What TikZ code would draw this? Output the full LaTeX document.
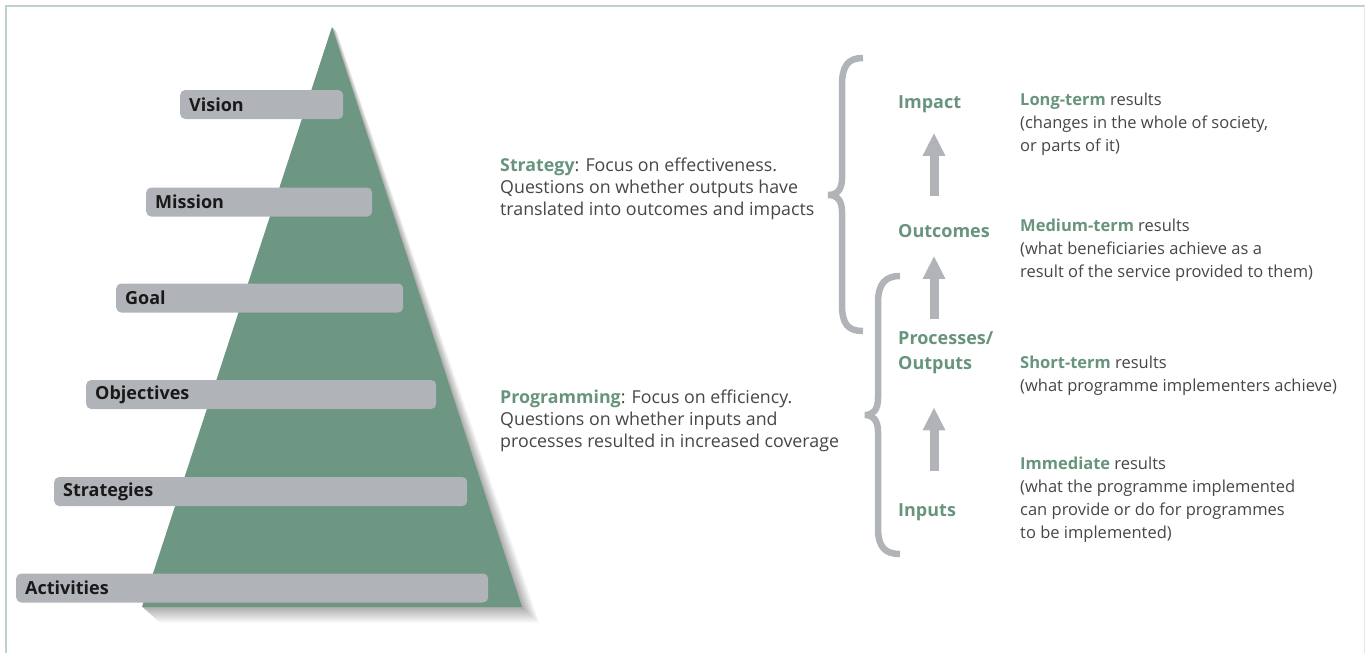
\documentclass[tikz,border=0pt]{standalone}
\usepackage{fontspec}
\setmainfont{Open Sans}
\usetikzlibrary{arrows.meta}
\definecolor{pyrgreen}{RGB}{109,150,131}
\definecolor{txtgreen}{RGB}{104,148,126}
\definecolor{bargray}{RGB}{176,180,184}
\definecolor{bodygray}{RGB}{70,70,70}
\definecolor{framegreen}{RGB}{190,210,200}

\begin{document}
\begin{tikzpicture}[x=1pt, y=-1pt,
    bar/.style={fill=bargray, rounded corners=5pt, minimum height=29pt, inner xsep=9pt, inner ysep=0pt,
        anchor=west, font=\fontsize{18}{20}\selectfont\bfseries, text=black!90},
    level/.style={anchor=west, inner sep=0pt, align=left, text=txtgreen, font=\fontsize{18}{25}\selectfont\bfseries},
    desc/.style={anchor=base west, inner sep=0pt, align=left, text=bodygray, font=\fontsize{16.5}{23}\selectfont},
    focus/.style={anchor=base west, inner sep=0pt, align=left, text=bodygray, font=\fontsize{17.8}{22}\selectfont},
    uparrow/.style={draw=bargray, line width=9pt, -{Triangle[width=21pt, length=23pt]}},
    curly/.style={draw=bargray, line width=6.5pt}]
    \useasboundingbox (0,0) rectangle (1365,653);

    % frame
    \draw [framegreen, line width=2pt] (5.5,653) -- (5.5,5.5) -- (1365,5.5);
    \draw [black!10, line width=1pt] (1364,5.5) -- (1364,653);

    % pyramid with its soft shadow
    \foreach \s in {16,...,1} {
        \pgfmathtruncatemacro\shade{(17-\s)*2}
        \fill [black!\shade] (332+\s*0.3,27+\s*0.3) -- (522+\s*1.1,607+\s) -- (142+\s*1.1,607+\s) -- cycle;
    }
    \fill [pyrgreen] (332,27) -- (522,607) -- (142,607) -- cycle;

    % levels of the pyramid
    \node [bar, text width=145pt] (vision) at (180,104.5) {Vision};
    \node [bar, text width=208pt] (mission) at (146,202) {Mission};
    \node [bar, text width=269pt] (goal) at (116,298) {Goal};
    \node [bar, text width=332pt] (objectives) at (86,394.5) {Objectives};
    \node [bar, text width=395pt] (strategies) at (54,491.5) {Strategies};
    \node [bar, text width=454pt] (activities) at (16,588) {Activities};

    % focus texts (base = last line)
    \node [focus] (strategy) at (500,215) {\textcolor{txtgreen}{\bfseries Strategy}: Focus on effectiveness.\\
        Questions on whether outputs have\\translated into outcomes and impacts};
    \node [focus] (programming) at (500,447) {\textcolor{txtgreen}{\bfseries Programming}: Focus on efficiency.\\
        Questions on whether inputs and\\processes resulted in increased coverage};

    % braces
    \draw [curly] (863,58) .. controls (848,58) and (842,66) .. (842,85) -- (842,178)
        .. controls (842,190) and (837,195) .. (828,195) .. controls (837,195) and (842,200) .. (842,212)
        -- (842,305) .. controls (842,324) and (848,331) .. (863,331);
    \draw [curly] (900,276) .. controls (885,276) and (878,284) .. (878,303) -- (878,398)
        .. controls (878,410) and (873,415) .. (865,415) .. controls (873,415) and (878,420) .. (878,432)
        -- (878,528) .. controls (878,547) and (885,554) .. (900,554);

    % results chain
    \coordinate (axis) at (934,0);
    \node [level] (impact) at (898,104) {Impact};
    \node [level] (outcomes) at (898,231) {Outcomes};
    \node [level] (procs) at (898,353) {Processes/\\Outputs};
    \node [level] (inputs) at (898,512) {Inputs};

    \draw [uparrow, shorten <=28pt, shorten >=20pt] (outcomes.north -| axis) -- (impact.south -| axis);
    \draw [uparrow, shorten <=13pt, shorten >=18pt] (procs.north -| axis) -- (outcomes.south -| axis);
    \draw [uparrow, shorten <=32pt, shorten >=33pt] (inputs.north -| axis) -- (procs.south -| axis);

    % results (base = last line)
    \node [desc] (longterm) at (1020,151) {\textcolor{txtgreen}{\bfseries Long-term} results\\
        (changes in the whole of society,\\or parts of it)};
    \node [desc] (mediumterm) at (1020,277) {\textcolor{txtgreen}{\bfseries Medium-term} results\\
        (what beneficiaries achieve as a\\result of the service provided to them)};
    \node [desc] (shortterm) at (1020,391) {\textcolor{txtgreen}{\bfseries Short-term} results\\
        (what programme implementers achieve)};
    \node [desc] (immediate) at (1020,538) {\textcolor{txtgreen}{\bfseries Immediate} results\\
        (what the programme implemented\\can provide or do for programmes\\to be implemented)};
\end{tikzpicture}
\end{document}
